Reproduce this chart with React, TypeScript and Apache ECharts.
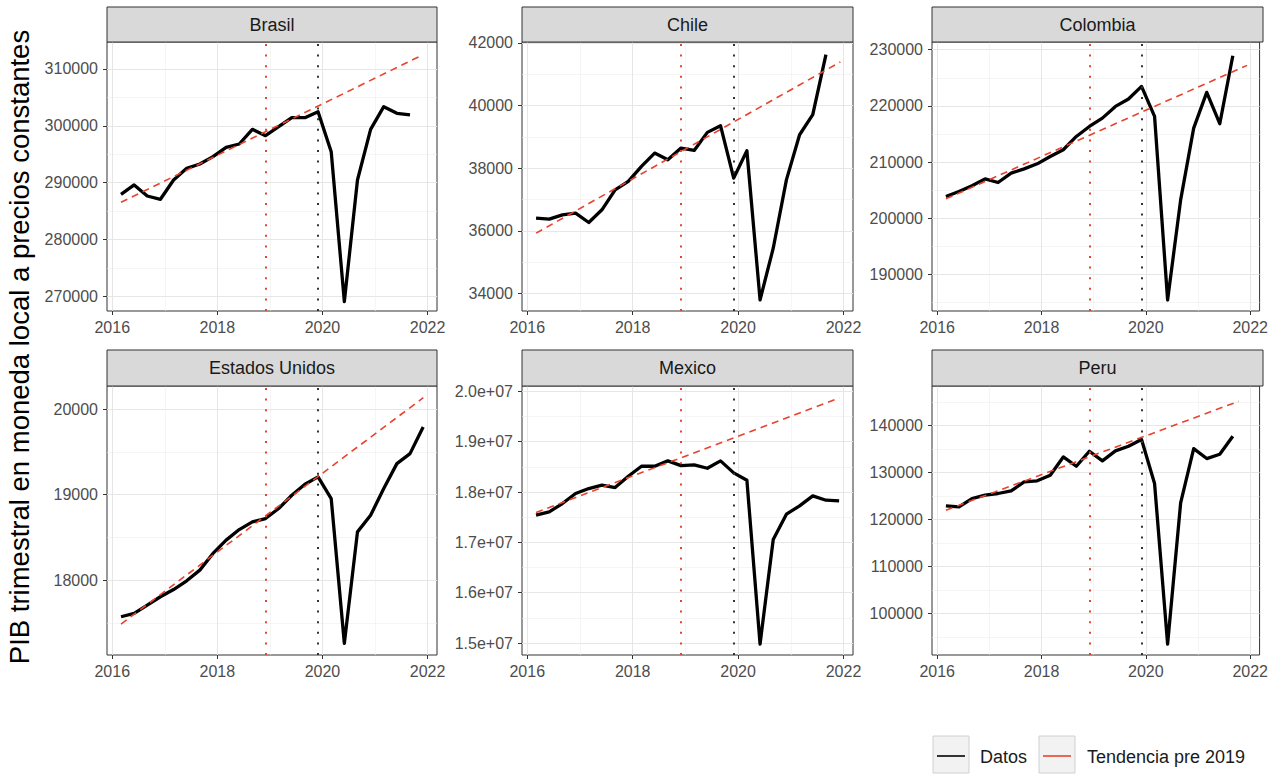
import React, { useEffect, useRef } from 'react';
import * as echarts from 'echarts';

// ---------- DATA ----------
const countries = ['Brasil', 'Chile', 'Colombia', 'Estados Unidos', 'Mexico', 'Peru'];

const quarters = [
  '2016-03', '2016-06', '2016-09', '2016-12',
  '2017-03', '2017-06', '2017-09', '2017-12',
  '2018-03', '2018-06', '2018-09', '2018-12',
  '2019-03', '2019-06', '2019-09', '2019-12',
  '2020-03', '2020-06', '2020-09', '2020-12',
  '2021-03', '2021-06', '2021-09', '2021-12',
];

const brasil = [287950, 289590, 287650, 287070, 290470, 292520, 293280, 294570, 296220, 296800, 299380, 298270, 299850, 301440, 301440, 302490, 295450, 269060, 290470, 299380, 303370, 302200, 301910];
const chile = [36409, 36377, 36515, 36568, 36270, 36675, 37314, 37580, 38060, 38485, 38272, 38645, 38570, 39146, 39359, 37687, 38560, 33800, 35450, 37630, 39070, 39710, 41630];
const colombia = [203890, 204780, 205790, 207030, 206380, 208040, 208810, 209700, 211010, 212200, 214570, 216350, 217830, 219910, 221220, 223470, 218130, 185490, 203290, 216050, 222400, 216830, 228930];
const estadosUnidos = [17571, 17610, 17707, 17805, 17890, 17992, 18117, 18312, 18468, 18592, 18682, 18721, 18838, 18994, 19123, 19209, 18955, 17259, 18565, 18760, 19072, 19364, 19481, 19793];
const mexico = [17540000, 17606000, 17771000, 17970000, 18069000, 18135000, 18089000, 18314000, 18512000, 18512000, 18618000, 18525000, 18538000, 18472000, 18618000, 18380000, 18234000, 14980000, 17057000, 17560000, 17725000, 17923000, 17837000, 17824000];
const peru = [122870, 122650, 124420, 125130, 125490, 126050, 127960, 128180, 129380, 133270, 131290, 134480, 132420, 134550, 135540, 136960, 127610, 93480, 123500, 135040, 132920, 133840, 137660];

const datos = [brasil, chile, colombia, estadosUnidos, mexico, peru];

// Trend lines "Tendencia pre 2019": [startYear, startValue, endYear, endValue]
const trendBrasil = [2016.167, 286540, 2021.84, 312170];
const trendChile = [2016.167, 35930, 2021.94, 41393];
const trendColombia = [2016.167, 203470, 2021.94, 227210];
const trendEstadosUnidos = [2016.167, 17485, 2021.92, 20136];
const trendMexico = [2016.167, 17593000, 2021.92, 19868000];
const trendPeru = [2016.167, 121950, 2021.78, 145100];
const trends = [trendBrasil, trendChile, trendColombia, trendEstadosUnidos, trendMexico, trendPeru];

// Vertical reference dates
const refRed = 2018.917;   // 2018-12
const refBlack = 2019.917; // 2019-12

// Axes
const xTicks = [2016, 2018, 2020, 2022];
const xMinorTicks = [2017, 2019, 2021];
const xMin = 2015.9;
const xMax = 2022.18;

const yTicksBrasil = [270000, 280000, 290000, 300000, 310000];
const yTicksChile = [34000, 36000, 38000, 40000, 42000];
const yTicksColombia = [190000, 200000, 210000, 220000, 230000];
const yTicksEstadosUnidos = [18000, 19000, 20000];
const yTicksMexico = [15000000, 16000000, 17000000, 18000000, 19000000, 20000000];
const yTicksPeru = [100000, 110000, 120000, 130000, 140000];
const yTicks = [yTicksBrasil, yTicksChile, yTicksColombia, yTicksEstadosUnidos, yTicksMexico, yTicksPeru];

const yMinorBrasil = [275000, 285000, 295000, 305000];
const yMinorChile = [35000, 37000, 39000, 41000];
const yMinorColombia = [185000, 195000, 205000, 215000, 225000];
const yMinorEstadosUnidos = [17500, 18500, 19500];
const yMinorMexico = [15500000, 16500000, 17500000, 18500000, 19500000];
const yMinorPeru = [95000, 105000, 115000, 125000, 135000, 145000];
const yMinor = [yMinorBrasil, yMinorChile, yMinorColombia, yMinorEstadosUnidos, yMinorMexico, yMinorPeru];

const yMins = [267410, 33446, 183530, 17123, 14762000, 91150];
const yMaxs = [314750, 42030, 231365, 20273, 20106000, 148350];

const yTitle = 'PIB trimestral en moneda local a precios constantes';
const legendLabels = ['Datos', 'Tendencia pre 2019'];

// ---------- LAYOUT / STYLE ----------
const FONT = '"Liberation Sans", Arial, Helvetica, sans-serif';
const colLeft = [107, 522, 932];
const colWidth = [330, 331, 331];
const rowTop = [42, 386];
const plotH = 269;
const stripTop = [7, 350];
const RED = '#e8432f';

function toYear(q: string): number {
  const [y, m] = q.split('-').map(Number);
  return y + (m - 1) / 12;
}

function yFormatter(i: number) {
  if (countries[i] === 'Mexico') {
    return (v: number) => (v / 1e7).toFixed(1) + 'e+07';
  }
  return (v: number) => String(v);
}

export default function App() {
  const ref = useRef<HTMLDivElement>(null);

  useEffect(() => {
    if (!ref.current) return;
    const chart = echarts.init(ref.current, undefined, { renderer: 'svg' });

    const grids: any[] = [];
    const xAxes: any[] = [];
    const yAxes: any[] = [];
    const series: any[] = [];
    const graphics: any[] = [];

    countries.forEach((name, i) => {
      const r = Math.floor(i / 3);
      const c = i % 3;
      grids.push({
        left: colLeft[c], top: rowTop[r], width: colWidth[c], height: plotH,
        show: true, borderColor: '#333333', borderWidth: 1, backgroundColor: '#ffffff',
        containLabel: false,
      });
      // minor x axis (grid lines only)
      xAxes.push({
        gridIndex: i, type: 'value', min: xMin, max: xMax, position: 'bottom',
        axisLine: { show: false },
        axisTick: { show: false, customValues: xMinorTicks },
        axisLabel: { show: false, customValues: xMinorTicks },
        splitLine: { show: true, lineStyle: { color: '#efefef', width: 0.6 } },
      });
      // major x axis
      xAxes.push({
        gridIndex: i, type: 'value', min: xMin, max: xMax, position: 'bottom',
        axisLine: { show: false },
        axisTick: { show: true, length: 4, customValues: xTicks, lineStyle: { color: '#333333', width: 1 } },
        axisLabel: {
          show: true, customValues: xTicks, color: '#4d4d4d', fontSize: 16, fontFamily: FONT, margin: 8,
          formatter: (v: number) => String(v),
        },
        splitLine: { show: true, lineStyle: { color: '#e6e6e6', width: 1 } },
      });
      yAxes.push({
        gridIndex: i, type: 'value', min: yMins[i], max: yMaxs[i], position: 'left',
        axisLine: { show: false },
        axisTick: { show: false, customValues: yMinor[i] },
        axisLabel: { show: false, customValues: yMinor[i] },
        splitLine: { show: true, lineStyle: { color: '#efefef', width: 0.6 } },
      });
      yAxes.push({
        gridIndex: i, type: 'value', min: yMins[i], max: yMaxs[i], position: 'left',
        axisLine: { show: false },
        axisTick: { show: true, length: 4, customValues: yTicks[i], lineStyle: { color: '#333333', width: 1 } },
        axisLabel: {
          show: true, customValues: yTicks[i], color: '#4d4d4d', fontSize: 16, fontFamily: FONT, margin: 9,
          formatter: yFormatter(i),
        },
        splitLine: { show: true, lineStyle: { color: '#e6e6e6', width: 1 } },
      });

      const vals = datos[i];
      series.push({
        name: 'Datos', type: 'line', xAxisIndex: 2 * i + 1, yAxisIndex: 2 * i + 1,
        data: vals.map((v, k) => [toYear(quarters[k]), v]),
        showSymbol: false, symbol: 'none',
        lineStyle: { color: '#000000', width: 3.3, join: 'round' },
        z: 4,
        markLine: {
          silent: true, symbol: ['none', 'none'], label: { show: false },
          data: [
            { xAxis: refRed, lineStyle: { color: RED, type: [2, 8.6], width: 2 } },
            { xAxis: refBlack, lineStyle: { color: '#333333', type: [2, 8.6], width: 2 } },
          ],
        },
      });
      const t = trends[i];
      series.push({
        name: 'Tendencia pre 2019', type: 'line', xAxisIndex: 2 * i + 1, yAxisIndex: 2 * i + 1,
        data: [[t[0], t[1]], [t[2], t[3]]],
        showSymbol: false, symbol: 'none',
        lineStyle: { color: RED, width: 1.6, type: [7, 5] },
        z: 5,
      });

      // strip
      graphics.push({
        type: 'rect', shape: { x: colLeft[c], y: stripTop[r], width: colWidth[c], height: rowTop[r] - stripTop[r] },
        style: { fill: '#d9d9d9', stroke: '#333333', lineWidth: 1 }, z: 10,
      });
      graphics.push({
        type: 'text', x: colLeft[c] + colWidth[c] / 2, y: (stripTop[r] + rowTop[r]) / 2,
        style: { text: name, fill: '#1a1a1a', fontSize: 18, fontFamily: FONT, textAlign: 'center', textVerticalAlign: 'middle' },
        z: 11,
      });
    });

    // y title
    graphics.push({
      type: 'text', x: 19, y: 347, rotation: Math.PI / 2,
      style: { text: yTitle, fill: '#000000', fontSize: 27.5, fontFamily: FONT, textAlign: 'center', textVerticalAlign: 'middle' },
      z: 11,
    });

    // legend
    const keyX = [933, 1039];
    const textX = [980, 1087];
    legendLabels.forEach((lab, k) => {
      graphics.push({
        type: 'rect', shape: { x: keyX[k], y: 736, width: 36, height: 37 },
        style: { fill: '#f2f2f2', stroke: '#d0d0d0', lineWidth: 1 }, z: 10,
      });
      graphics.push({
        type: 'line', shape: { x1: keyX[k] + 4, y1: 756, x2: keyX[k] + 32, y2: 756 },
        style: { stroke: k === 0 ? '#000000' : RED, lineWidth: 1.6 }, z: 11,
      });
      graphics.push({
        type: 'text', x: textX[k], y: 757,
        style: { text: lab, fill: '#1a1a1a', fontSize: 18, fontFamily: FONT, textAlign: 'left', textVerticalAlign: 'middle' },
        z: 11,
      });
    });

    chart.setOption({
      animation: false,
      backgroundColor: '#ffffff',
      grid: grids,
      xAxis: xAxes,
      yAxis: yAxes,
      series,
      graphic: { elements: graphics },
    });

    return () => chart.dispose();
  }, []);

  return (
    <div
      ref={ref}
      style={{ position: 'fixed', left: 0, top: 0, width: 1271, height: 774, background: '#fff' }}
    />
  );
}
